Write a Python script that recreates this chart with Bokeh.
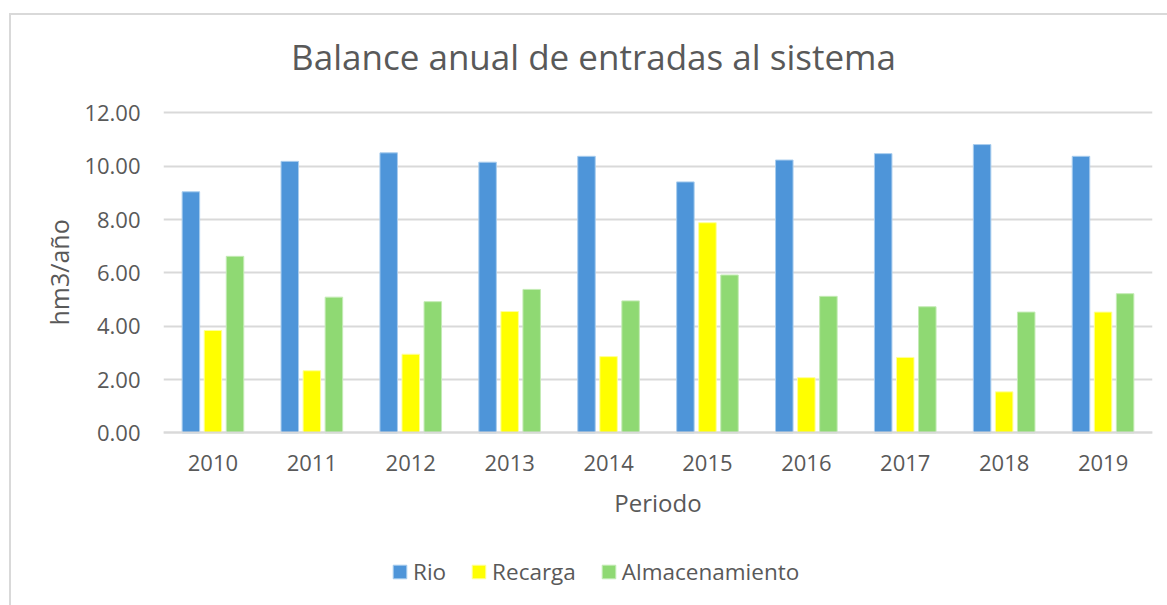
from bokeh.plotting import figure
from bokeh.models import (ColumnDataSource, FactorRange, Range1d, FixedTicker, NumeralTickFormatter,
                          Legend, LegendItem, Title, Label)
from bokeh.transform import dodge
from bokeh.embed import file_html
from bokeh.resources import INLINE

years = ["2010", "2011", "2012", "2013", "2014", "2015", "2016", "2017", "2018", "2019"]
rio = [9.04, 10.18, 10.50, 10.15, 10.37, 9.41, 10.23, 10.47, 10.81, 10.37]
recarga = [3.84, 2.33, 2.95, 4.55, 2.86, 7.88, 2.07, 2.83, 1.54, 4.53]
almacenamiento = [6.62, 5.09, 4.92, 5.38, 4.95, 5.92, 5.12, 4.73, 4.53, 5.22]
y_ticks = [0, 2, 4, 6, 8, 10, 12]

FONT = "Open Sans"
TXT = "#595959"
GRID = "#D9D9D9"

# pixel layout: value axis 0..12 spans 319 px; the frame extends 97 px above 12 (title)
# and 174 px below 0 (axis texts and legend)
Y_MAX = 12
Y_TOP = Y_MAX + Y_MAX * 97 / 319
Y_MIN = -Y_MAX * 174 / 319

src = ColumnDataSource(dict(year=years, rio=rio, recarga=recarga, alm=almacenamiento))

p = figure(x_range=FactorRange(*years, range_padding=0), y_range=Range1d(Y_MIN, Y_TOP),
           width=1158, height=592, output_backend="svg", toolbar_location=None,
           min_border_left=152, min_border_right=17, min_border_top=0, min_border_bottom=0)
p.styles = {"margin-left": "9px", "margin-top": "13px",
            "border-left": "2px solid #D9D9D9", "border-top": "2px solid #D9D9D9",
            "box-sizing": "border-box"}
p.outline_line_color = None
p.background_fill_color = "white"
p.border_fill_color = "white"

p.add_layout(Label(x=430, y=551, x_units="screen", y_units="screen",
                   text="Balance anual de entradas al sistema", text_align="center",
                   text_baseline="middle", text_font=FONT, text_font_size="35px",
                   text_color=TXT))

w = 0.177
r1 = p.vbar(x=dodge("year", -0.223, range=p.x_range), top="rio", width=w, source=src,
            fill_color="#4E95D9", line_color="#A9CDEE", line_width=1)
r2 = p.vbar(x=dodge("year", 0.0, range=p.x_range), top="recarga", width=w, source=src,
            fill_color="#FFFF00", line_color="#FFFF99", line_width=1)
r3 = p.vbar(x=dodge("year", 0.223, range=p.x_range), top="alm", width=w, source=src,
            fill_color="#8FD973", line_color="#C4EBB5", line_width=1)

# grid
p.xgrid.grid_line_color = None
p.ygrid.ticker = FixedTicker(ticks=y_ticks)
p.ygrid.grid_line_color = GRID
p.ygrid.grid_line_width = 2

# y axis
p.yaxis.ticker = FixedTicker(ticks=y_ticks)
p.yaxis.formatter = NumeralTickFormatter(format="0.00")
p.yaxis.axis_line_color = None
p.yaxis.major_tick_line_color = None
p.yaxis.minor_tick_line_color = None
p.yaxis.major_label_standoff = 17
p.yaxis.major_label_text_font = FONT
p.yaxis.major_label_text_font_size = "22px"
p.yaxis.major_label_text_color = TXT
p.add_layout(Title(text="hm3/año", align="left", offset=282, standoff=12,
                   text_font=FONT, text_font_size="25px", text_font_style="normal",
                   text_color=TXT), "left")

# x axis drawn at value 0
p.xaxis.fixed_location = 0
p.xaxis.axis_line_color = GRID
p.xaxis.axis_line_width = 2
p.xaxis.major_tick_line_color = None
p.xaxis.minor_tick_line_color = None
p.xaxis.major_label_standoff = 16
p.xaxis.major_label_text_font = FONT
p.xaxis.major_label_text_font_size = "22px"
p.xaxis.major_label_text_color = TXT
p.xaxis.axis_label = "Periodo"
p.xaxis.axis_label_text_font = FONT
p.xaxis.axis_label_text_font_size = "24px"
p.xaxis.axis_label_text_font_style = "normal"
p.xaxis.axis_label_text_color = TXT
p.xaxis.axis_label_standoff = 12

legend = Legend(items=[LegendItem(label="Rio", renderers=[r1]),
                       LegendItem(label="Recarga", renderers=[r2]),
                       LegendItem(label="Almacenamiento", renderers=[r3])],
                location=(228, 20), orientation="horizontal",
                border_line_color=None, background_fill_alpha=0,
                glyph_width=17, glyph_height=17, label_standoff=5, spacing=24, padding=0, margin=0,
                label_text_font=FONT, label_text_font_size="22.5px", label_text_color=TXT)
p.add_layout(legend, "center")

open("out.html", "w").write(file_html(p, INLINE))
